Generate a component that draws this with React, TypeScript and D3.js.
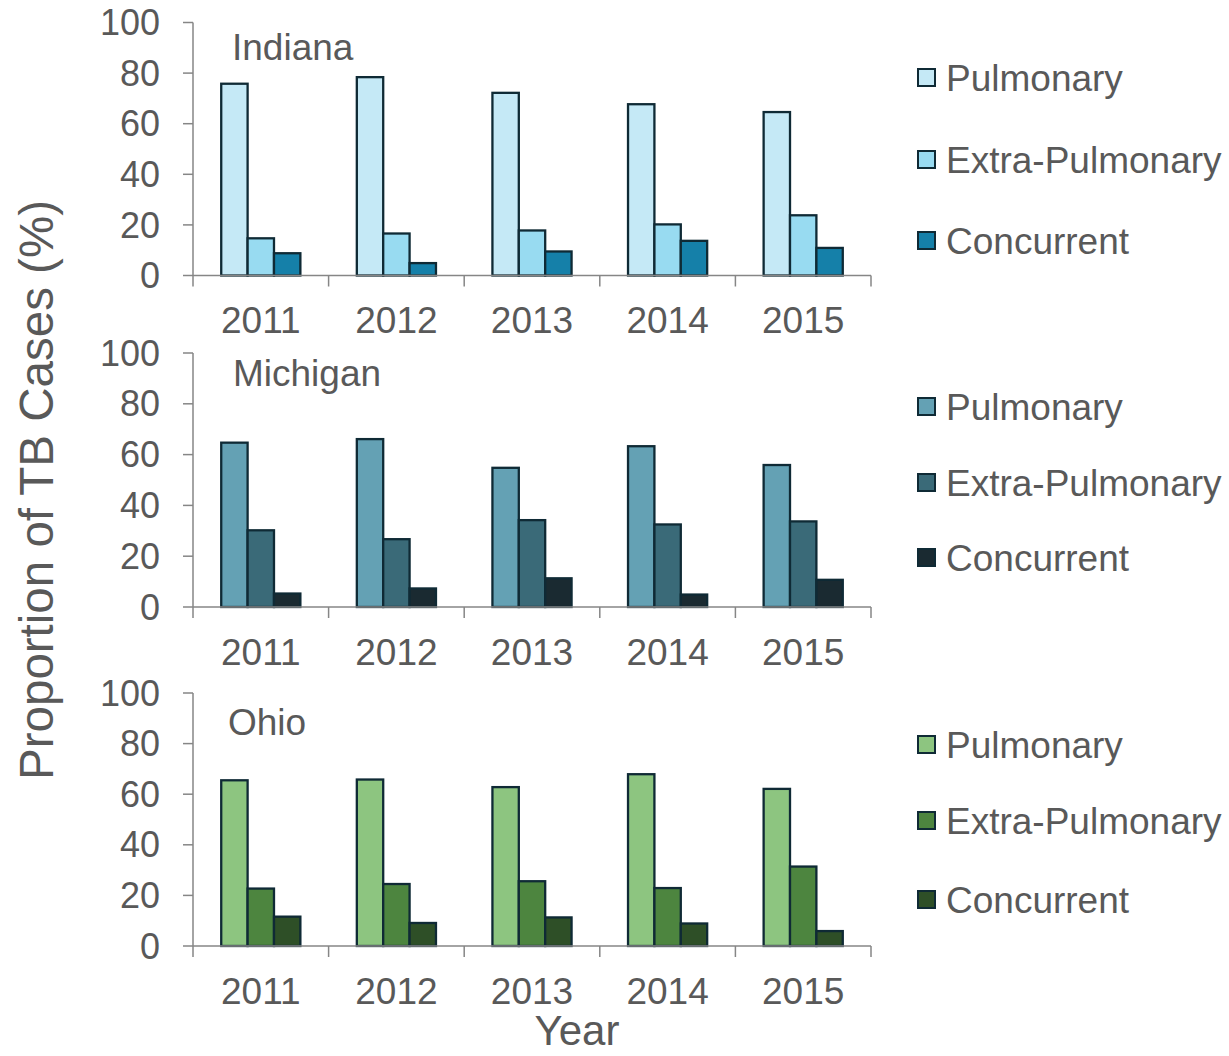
import * as d3 from "d3";

const years = ["2011", "2012", "2013", "2014", "2015"];
const seriesNames = ["Pulmonary", "Extra-Pulmonary", "Concurrent"];
const yTicks = [0, 20, 40, 60, 80, 100];

// values, one array per state, rows = series, cols = years
const indiana = [
  [75.8, 78.4, 72.2, 67.7, 64.6],
  [14.7, 16.6, 17.8, 20.2, 23.8],
  [8.8, 4.9, 9.5, 13.7, 10.9],
];
const michigan = [
  [64.7, 66.1, 54.8, 63.3, 55.9],
  [30.2, 26.7, 34.2, 32.5, 33.7],
  [5.3, 7.3, 11.3, 4.9, 10.7],
];
const ohio = [
  [65.5, 65.8, 62.8, 67.9, 62.1],
  [22.7, 24.5, 25.6, 22.9, 31.4],
  [11.6, 9.1, 11.3, 8.9, 5.9],
];

const indianaColors = ["#c5e9f6", "#98dbf1", "#1580a9"];
const michiganColors = ["#64a1b4", "#3a6a78", "#1a2a31"];
const ohioColors = ["#8dc580", "#4d853f", "#2e4f27"];

const panels = [
  { name: "Indiana", values: indiana, colors: indianaColors, base: 275.5, top: 22.5, titleX: 232, titleY: 47, legendY: [78, 160, 241] },
  { name: "Michigan", values: michigan, colors: michiganColors, base: 607, top: 353, titleX: 233, titleY: 373, legendY: [407, 483, 558] },
  { name: "Ohio", values: ohio, colors: ohioColors, base: 946, top: 693, titleX: 228, titleY: 722, legendY: [745, 821, 900] },
];

const font = "'Liberation Sans', Arial, sans-serif";
const axisColor = "#868686";
const textColor = "#595959";
const barStroke = "#0f2a35";

function Panel({ p }: { p: (typeof panels)[number] }) {
  const x = d3.scaleBand().domain(years).range([193, 871]);
  const xs = d3.scaleBand().domain(seriesNames).range([0, x.bandwidth()]).paddingOuter(1.07);
  const y = d3.scaleLinear().domain([0, 100]).range([p.base, p.top]);
  const ticksX = [...years.map((yr) => x(yr)!), 871];

  return (
    <g>
      {/* bars */}
      {p.values.map((row, si) =>
        row.map((v, yi) => (
          <rect
            key={`${si}-${yi}`}
            x={x(years[yi])! + xs(seriesNames[si])!}
            y={y(v)}
            width={xs.bandwidth()}
            height={y(0) - y(v)}
            fill={p.colors[si]}
            stroke={barStroke}
            strokeWidth={2.3}
          />
        ))
      )}
      {/* y axis */}
      <line x1={193} x2={193} y1={y(0)} y2={y(100)} stroke={axisColor} strokeWidth={1.5} />
      {yTicks.map((t) => (
        <g key={t}>
          <line x1={183} x2={193} y1={y(t)} y2={y(t)} stroke={axisColor} strokeWidth={1.5} />
          <text x={160} y={y(t)} dy="0.35em" textAnchor="end" fontSize={36} fill={textColor} fontFamily={font}>
            {t}
          </text>
        </g>
      ))}
      {/* x axis */}
      <line x1={193} x2={871} y1={y(0)} y2={y(0)} stroke={axisColor} strokeWidth={1.5} />
      {ticksX.map((tx, i) => (
        <line key={i} x1={tx} x2={tx} y1={y(0)} y2={y(0) + 11} stroke={axisColor} strokeWidth={1.5} />
      ))}
      {years.map((yr) => (
        <text
          key={yr}
          x={x(yr)! + x.bandwidth() / 2}
          y={y(0) + 45}
          dy="0.35em"
          textAnchor="middle"
          fontSize={37}
          fill={textColor}
          fontFamily={font}
        >
          {yr}
        </text>
      ))}
      <text x={p.titleX} y={p.titleY} dy="0.35em" fontSize={37} fill={textColor} fontFamily={font}>
        {p.name}
      </text>
      {/* legend */}
      {seriesNames.map((s, si) => (
        <g key={s}>
          <rect x={918} y={p.legendY[si] - 9} width={17} height={17} fill={p.colors[si]} stroke={barStroke} strokeWidth={2} />
          <text x={946} y={p.legendY[si]} dy="0.35em" fontSize={37} fill={textColor} fontFamily={font}>
            {s}
          </text>
        </g>
      ))}
    </g>
  );
}

export default function App() {
  return (
    <svg
      width={1229}
      height={1056}
      style={{ position: "absolute", left: 0, top: 0, background: "#fff" }}
    >
      {panels.map((p) => (
        <Panel key={p.name} p={p} />
      ))}
      <text
        transform="translate(36,490) rotate(-90)"
        dy="0.35em"
        textAnchor="middle"
        fontSize={47.5}
        fill={textColor}
        fontFamily={font}
      >
        Proportion of TB Cases (%)
      </text>
      <text x={577} y={1030} dy="0.35em" textAnchor="middle" fontSize={42} fill={textColor} fontFamily={font}>
        Year
      </text>
    </svg>
  );
}
